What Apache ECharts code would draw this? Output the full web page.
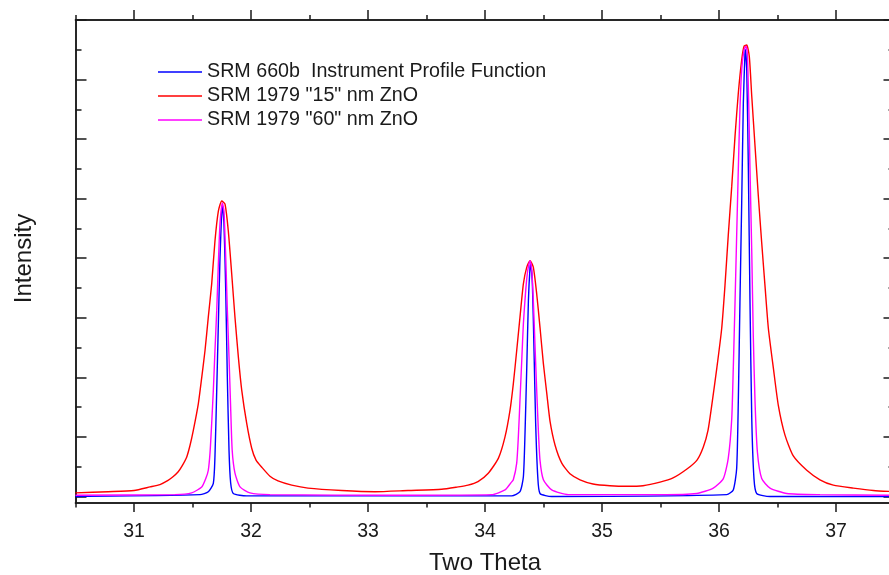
<!DOCTYPE html>
<html>
<head>
<meta charset="utf-8">
<script src="https://cdn.jsdelivr.net/npm/echarts@6/dist/echarts.min.js"></script>
<style>
  html, body { margin: 0; padding: 0; background: #fff; }
  #main { width: 889px; height: 575px; }
</style>
</head>
<body>
<div id="main"></div>
<script>
// two theta / intensity pairs (arbitrary intensity units)
const ipf660b = [
  [30.5, 0], [31.564, 0.03], [31.635, 0.08], [31.678, 0.22], [31.692, 0.67],
  [31.707, 1.78], [31.721, 2.9], [31.735, 4.01], [31.75, 4.79], [31.755, 4.88],
  [31.769, 4.58], [31.784, 3.46], [31.797, 2.07], [31.812, 0.78], [31.826, 0.23],
  [31.849, 0.05], [31.963, 0.01], [34.228, 0.01], [34.299, 0.08], [34.328, 0.33],
  [34.342, 1.06], [34.357, 2.17], [34.371, 3.29], [34.385, 3.85], [34.391, 3.9],
  [34.405, 3.57], [34.419, 2.45], [34.433, 1.23], [34.451, 0.33], [34.47, 0.05],
  [34.57, 0], [36.066, 0.03], [36.122, 0.11], [36.151, 0.47], [36.165, 1.59],
  [36.179, 3.26], [36.194, 4.93], [36.208, 6.61], [36.222, 7.44], [36.225, 7.5],
  [36.237, 7.17], [36.251, 5.49], [36.265, 3.26], [36.28, 1.31], [36.299, 0.3],
  [36.322, 0.05], [36.436, 0], [37.5, 0]
];

const zno15 = [
  [30.5, 0.06], [30.778, 0.08], [31.0, 0.1], [31.137, 0.16], [31.222, 0.2],
  [31.291, 0.27], [31.333, 0.33], [31.376, 0.41], [31.41, 0.51], [31.45, 0.66],
  [31.479, 0.86], [31.507, 1.11], [31.55, 1.56], [31.579, 2.0], [31.607, 2.45],
  [31.635, 3.01], [31.664, 3.57], [31.692, 4.29], [31.721, 4.79], [31.75, 4.96],
  [31.778, 4.91], [31.806, 4.46], [31.835, 3.74], [31.863, 3.01], [31.892, 2.34],
  [31.921, 1.78], [31.963, 1.23], [32.006, 0.81], [32.043, 0.61], [32.092, 0.49],
  [32.162, 0.34], [32.231, 0.26], [32.348, 0.19], [32.487, 0.14], [32.775, 0.1],
  [33.06, 0.08], [33.342, 0.1], [33.63, 0.12], [33.769, 0.16], [33.855, 0.19],
  [33.94, 0.25], [34.028, 0.39], [34.114, 0.64], [34.171, 1.0], [34.214, 1.45],
  [34.242, 1.89], [34.271, 2.45], [34.299, 3.01], [34.328, 3.57], [34.357, 3.85],
  [34.385, 3.96], [34.413, 3.85], [34.442, 3.4], [34.47, 2.84], [34.499, 2.23],
  [34.528, 1.73], [34.556, 1.26], [34.599, 0.86], [34.656, 0.56], [34.726, 0.38],
  [34.812, 0.28], [34.923, 0.21], [35.068, 0.18], [35.214, 0.17], [35.35, 0.18],
  [35.496, 0.24], [35.607, 0.31], [35.726, 0.46], [35.812, 0.61], [35.866, 0.83],
  [35.906, 1.11], [35.938, 1.53], [35.981, 2.15], [36.023, 2.82], [36.051, 3.54],
  [36.079, 4.38], [36.109, 5.21], [36.137, 6.05], [36.165, 6.77], [36.194, 7.33],
  [36.214, 7.56], [36.237, 7.58], [36.259, 7.39], [36.28, 6.72], [36.308, 5.88],
  [36.336, 5.05], [36.365, 4.26], [36.393, 3.54], [36.422, 2.82], [36.465, 2.15],
  [36.507, 1.53], [36.564, 1.03], [36.635, 0.68], [36.75, 0.44], [36.863, 0.28],
  [36.977, 0.19], [37.148, 0.14], [37.319, 0.1], [37.5, 0.08]
];

const zno60 = [
  [30.5, 0.02], [31.35, 0.03], [31.493, 0.06], [31.579, 0.16], [31.615, 0.31],
  [31.635, 0.44], [31.65, 0.74], [31.664, 1.23], [31.678, 1.78], [31.692, 2.45],
  [31.707, 3.12], [31.721, 3.91], [31.735, 4.58], [31.755, 4.93], [31.769, 4.79],
  [31.784, 4.01], [31.797, 3.18], [31.812, 2.34], [31.826, 1.5], [31.839, 0.78],
  [31.863, 0.39], [31.906, 0.16], [31.991, 0.06], [32.162, 0.03], [33.274, 0.02],
  [34.057, 0.03], [34.171, 0.11], [34.222, 0.23], [34.242, 0.28], [34.271, 0.56],
  [34.285, 1.0], [34.299, 1.62], [34.314, 2.28], [34.328, 2.9], [34.348, 3.46],
  [34.365, 3.79], [34.385, 3.96], [34.4, 3.79], [34.413, 3.29], [34.427, 2.56],
  [34.442, 1.78], [34.456, 1.11], [34.47, 0.61], [34.499, 0.28], [34.57, 0.11],
  [34.712, 0.03], [35.496, 0.03], [35.809, 0.05], [35.951, 0.14], [36.037, 0.3],
  [36.079, 0.64], [36.109, 1.31], [36.122, 2.15], [36.137, 3.26], [36.151, 4.38],
  [36.165, 5.49], [36.179, 6.5], [36.194, 7.17], [36.214, 7.5], [36.231, 7.56],
  [36.243, 7.39], [36.254, 6.61], [36.265, 5.49], [36.28, 4.1], [36.293, 2.7],
  [36.308, 1.59], [36.328, 0.75], [36.365, 0.3], [36.436, 0.14], [36.579, 0.05],
  [36.863, 0.03], [37.5, 0.02]
];

const seriesNames = [
  'SRM 660b  Instrument Profile Function',
  'SRM 1979 "15" nm ZnO',
  'SRM 1979 "60" nm ZnO'
];
const seriesColors = ['#0000ff', '#ff0000', '#ff00ff'];

const xMajorTicks = [31, 32, 33, 34, 35, 36, 37];
const xMinorTicks = [30.5, 31.5, 32.5, 33.5, 34.5, 35.5, 36.5, 37.5];
const yMajorTicks = [0, 1, 2, 3, 4, 5, 6, 7, 8];
const yMinorTicks = [0.5, 1.5, 2.5, 3.5, 4.5, 5.5, 6.5, 7.5];

const FONT = 'Liberation Sans, Arial, sans-serif';
const INK = '#1a1a1a';

const chart = echarts.init(document.getElementById('main'));

// one axis per tick length, all on the same range
const xAxisBase = (position, ticks, len, extra) => Object.assign({
  type: 'value',
  position,
  min: 30.5,
  max: 37.5,
  axisLine: { show: true, onZero: false, lineStyle: { color: INK, width: 1.5 } },
  axisTick: { show: true, inside: false, length: len, customValues: ticks, lineStyle: { color: INK, width: 1.5 } },
  axisLabel: { show: false },
  splitLine: { show: false }
}, extra || {});

const yAxisBase = (position, ticks, len, extra) => Object.assign({
  type: 'value',
  position,
  min: -0.11,
  max: 8,
  axisLine: { show: true, onZero: false, lineStyle: { color: INK, width: 1.5 } },
  axisTick: { show: true, inside: true, length: len, customValues: ticks, lineStyle: { color: INK, width: 1.5 } },
  axisLabel: { show: false },
  splitLine: { show: false }
}, extra || {});

const series = [ipf660b, zno15, zno60].map((data, i) => ({
  name: seriesNames[i],
  type: 'line',
  xAxisIndex: 0,
  yAxisIndex: 0,
  data,
  symbol: 'none',
  showSymbol: false,
  smooth: 0.2,
  animation: false,
  lineStyle: { color: seriesColors[i], width: 1.4 },
  itemStyle: { color: seriesColors[i] },
  z: 2 + i
}));

chart.setOption({
  backgroundColor: '#fff',
  animation: false,
  grid: { left: 75.5, right: -5.5, top: 20, bottom: 72, outerBoundsMode: 'none', containLabel: false },
  legend: {
    orient: 'vertical',
    left: 158,
    top: 62,
    padding: 0,
    icon: 'rect',
    itemWidth: 44,
    itemHeight: 1.6,
    itemGap: 4,
    data: seriesNames,
    textStyle: { fontFamily: FONT, fontSize: 19.7, color: INK }
  },
  xAxis: [
    xAxisBase('bottom', xMajorTicks, 9, {
      name: 'Two Theta',
      nameLocation: 'middle',
      nameGap: 48,
      nameTextStyle: { fontFamily: FONT, fontSize: 24, color: INK },
      axisLabel: {
        show: true,
        customValues: xMajorTicks,
        margin: 19,
        fontFamily: FONT,
        fontSize: 19.5,
        color: INK
      }
    }),
    xAxisBase('bottom', xMinorTicks, 4.5),
    xAxisBase('top', xMajorTicks, 10),
    xAxisBase('top', xMinorTicks, 5)
  ],
  yAxis: [
    yAxisBase('left', yMajorTicks, 11, {
      name: 'Intensity',
      nameLocation: 'middle',
      nameGap: 39,
      nameTextStyle: { fontFamily: FONT, fontSize: 24, color: INK, padding: [0, 0, 0, 6] }
    }),
    yAxisBase('left', yMinorTicks, 6),
    yAxisBase('right', yMajorTicks, 11),
    yAxisBase('right', yMinorTicks, 6)
  ],
  series
});
</script>
</body>
</html>
